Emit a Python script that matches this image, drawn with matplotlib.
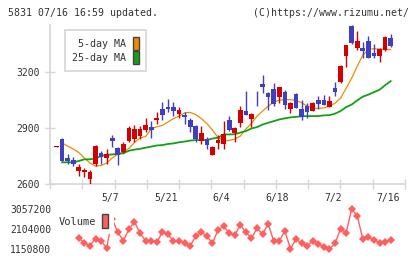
import numpy as np
import matplotlib
matplotlib.use("Agg")
import matplotlib.pyplot as plt
from matplotlib.patches import Patch

# daily candles, index 0 = 4/18 ... index 60 = 7/16
opens = [2799, 2842, 2740, 2728, 2671, 2664, 2628, 2707, 2767, 2740,
         2847, 2791, 2772, 2830, 2840, 2858, 2888, 2905, 2943, 3000,
         3013, 3011, 2975, 2968, 2943, 2910, 2831, 2840, 2756, 2819,
         2815, 2942, 2874, 2927, 2990, 2949, 3050, 3134, 3086, 3107,
         3066, 3091, 3002, 3080, 2999, 3016, 2991, 3048, 3048, 3013,
         3112, 3143, 3285, 3443, 3328, 3326, 3363, 3299, 3285, 3317,
         3379]
closes = [2802, 2724, 2723, 2708, 2692, 2675, 2664, 2801, 2746, 2760,
          2831, 2756, 2812, 2900, 2895, 2895, 2915, 2890, 2952, 2970,
          2999, 2991, 2995, 2956, 2906, 2840, 2872, 2810, 2798, 2836,
          2867, 2888, 2899, 2995, 2970, 2975, 3047, 3119, 3066, 3027,
          3118, 3023, 3034, 3006, 2959, 2984, 3032, 3029, 3025, 3043,
          3093, 3230, 3342, 3354, 3363, 3311, 3274, 3285, 3320, 3385,
          3337]
highs = [2802, 2846, 2760, 2744, 2705, 2687, 2673, 2808, 2776, 2787,
         2862, 2798, 2826, 2910, 2915, 2911, 2954, 2936, 2983, 3039,
         3054, 3036, 3011, 2986, 2954, 2917, 2910, 2849, 2804, 2860,
         2936, 2963, 2904, 3016, 3096, 2980, 3096, 3182, 3091, 3139,
         3118, 3102, 3039, 3084, 3048, 3031, 3038, 3070, 3075, 3070,
         3144, 3235, 3342, 3449, 3417, 3358, 3390, 3347, 3329, 3390,
         3401]
lows = [2799, 2724, 2705, 2694, 2644, 2639, 2602, 2694, 2705, 2708,
        2798, 2701, 2764, 2826, 2826, 2840, 2879, 2844, 2922, 2940,
        2983, 2965, 2951, 2920, 2879, 2826, 2814, 2788, 2756, 2787,
        2787, 2883, 2824, 2906, 2967, 2906, 3018, 3084, 2995, 3016,
        3031, 3002, 2981, 3004, 2942, 2952, 2990, 2999, 3022, 3009,
        3070, 3138, 3226, 3347, 3319, 3276, 3274, 3271, 3253, 3311,
        3331]

ma5 = [np.nan, 2819, 2803, 2787, 2768, 2739, 2712, 2696, 2699, 2712,
       2739, 2760, 2771, 2790, 2822, 2846, 2854, 2894, 2906, 2913,
       2931, 2950, 2963, 2980, 2983, 2971, 2950, 2923, 2888, 2848,
       2833, 2833, 2840, 2856, 2894, 2923, 2963, 2990, 3016, 3038,
       3048, 3051, 3051, 3046, 3035, 3016, 3006, 3004, 3007, 3016,
       3032, 3059, 3112, 3166, 3230, 3289, 3318, 3324, 3321, 3319,
       3319]
ma25 = [np.nan, 2716, 2716, 2716, 2723, 2732, 2732, 2737, 2750, 2756,
        2758, 2761, 2764, 2778, 2784, 2788, 2794, 2800, 2806, 2808,
        2814, 2817, 2823, 2827, 2832, 2835, 2835, 2835, 2843, 2847,
        2865, 2865, 2866, 2875, 2883, 2897, 2904, 2918, 2927, 2936,
        2945, 2951, 2956, 2959, 2962, 2963, 2963, 2963, 2967, 2968,
        2976, 2990, 3011, 3025, 3047, 3067, 3078, 3091, 3104, 3128,
        3150]

volume = [np.nan, np.nan, np.nan, np.nan, 1679000, 1424500, 1309000, 1655000, 1549400, 1184400,
          2591400, 1952700, 1549400, 2096800, 2461700, 1904700, 1549400, 1549400, 1472500, 1952700,
          1856700, 1534800, 1549400, 1424500, 1294900, 1775100, 1952700, 1775100, 1424500, 2063200,
          2255300, 1904700, 1823100, 2303300, 1952700, 1664600, 2144800, 1871100, 2351300, 1534800,
          1534800, 2015200, 1165200, 1616600, 1424500, 1294900, 1534800, 1390900, 1232400, 1140000,
          1424500, 2111200, 1933500, 3071600, 2735500, 1631000, 1712600, 1583000, 1453300, 1501300,
          1583000]

date_labels = ["5/7", "5/21", "6/4", "6/18", "7/2", "7/16"]
date_idx = [10, 20, 30, 40, 50, 60]
price_ticks = [2600, 2900, 3200]
vol_ticks = [1150800, 2104000, 3057200]

plt.rcParams["font.family"] = "DejaVu Sans Mono"
plt.rcParams["font.size"] = 7

UP = "#d40000"
DOWN = "#3f3fbf"
GRID = "#d6d6d6"
TXT = "#333333"

fig = plt.figure(figsize=(4.2, 2.59), dpi=100)
ax = fig.add_axes([50 / 420, 1 - 184 / 259, 355 / 420, 159 / 259])
axv = fig.add_axes([50 / 420, 1 - 252 / 259, 355 / 420, 49 / 259])

x = np.arange(len(opens))
o = np.array(opens, float)
c = np.array(closes, float)
colors = [UP if cc >= oo else DOWN for oo, cc in zip(o, c)]

ax.vlines(x, lows, highs, colors=colors, linewidth=1, zorder=3)
body_h = np.maximum(np.abs(c - o), 3)
ax.bar(x, body_h, bottom=np.minimum(o, c), width=0.84, color=colors, zorder=4)

ax.plot(x, ma5, color="#f08a00", linewidth=0.9, zorder=2)
ax.plot(x, ma25, color="#14a014", linewidth=1.3, zorder=2)

xmin, xmax = -1.17, 62.57
ax.set_xlim(xmin, xmax)
ax.set_ylim(2600, 3450)
ax.set_xticks(np.linspace(xmin, xmax, 12))
ax.set_xticklabels([])
ax.set_yticks(price_ticks)
ax.set_yticklabels([str(t) for t in price_ticks], color=TXT)
ax.tick_params(axis="both", direction="inout", length=6.5, color=GRID, width=1)
ax.tick_params(axis="y", pad=4)
for s in ["top", "right"]:
    ax.spines[s].set_visible(False)
for s in ["left", "bottom"]:
    ax.spines[s].set_color(GRID)
    ax.spines[s].set_linewidth(1.2)

for d, i in zip(date_labels, date_idx):
    ax.text(i - 0.4, -0.088, d, transform=ax.get_xaxis_transform(),
            ha="center", va="center", color=TXT)

handles = [Patch(facecolor="#f08a00", edgecolor="#444444", label="5-day MA"),
           Patch(facecolor="#14a014", edgecolor="#444444", label="25-day MA")]
leg = ax.legend(handles=handles, loc="upper left", bbox_to_anchor=(0.042, 0.969),
                markerfirst=False, frameon=True, fancybox=False, fontsize=7.2,
                handlelength=0.6, handleheight=1.6, handletextpad=0.7,
                borderpad=0.7, labelspacing=0.12, borderaxespad=0, framealpha=1)
leg.get_frame().set_edgecolor(GRID)
leg.get_frame().set_linewidth(1.2)
for t in leg.get_texts():
    t.set_color(TXT)

axv.plot(x, volume, color="#ff5f5f", linewidth=1.0, marker="D", markersize=4.2,
         markeredgewidth=0)
axv.set_xlim(xmin, xmax)
axv.set_ylim(1150800 - 3 * 48020, 1150800 + 46 * 48020)
axv.set_xticks([])
axv.set_yticks(vol_ticks)
axv.set_yticklabels([str(t) for t in vol_ticks], color=TXT)
axv.tick_params(axis="y", length=0, pad=-1)
for s in axv.spines.values():
    s.set_visible(False)
vleg = axv.legend(handles=[Patch(facecolor="#ff5f5f", edgecolor="#444444", label="Volume")],
                  loc="upper left", bbox_to_anchor=(-0.009, 1.0), markerfirst=False,
                  frameon=True, fancybox=False, fontsize=7.5, handlelength=0.55,
                  handleheight=1.6, handletextpad=0.6, borderpad=0.6, borderaxespad=0.5,
                  framealpha=1)
vleg.get_frame().set_edgecolor("none")
for t in vleg.get_texts():
    t.set_color(TXT)

fig.text(8 / 420, 1 - 13 / 259, "5831 07/16 16:59 updated.", ha="left", va="center",
         color=TXT, fontsize=7.1)
fig.text(409 / 420, 1 - 13 / 259, "(C)https://www.rizumu.net/", ha="right", va="center",
         color=TXT, fontsize=7.1)

fig.savefig("out.png", dpi=100)
